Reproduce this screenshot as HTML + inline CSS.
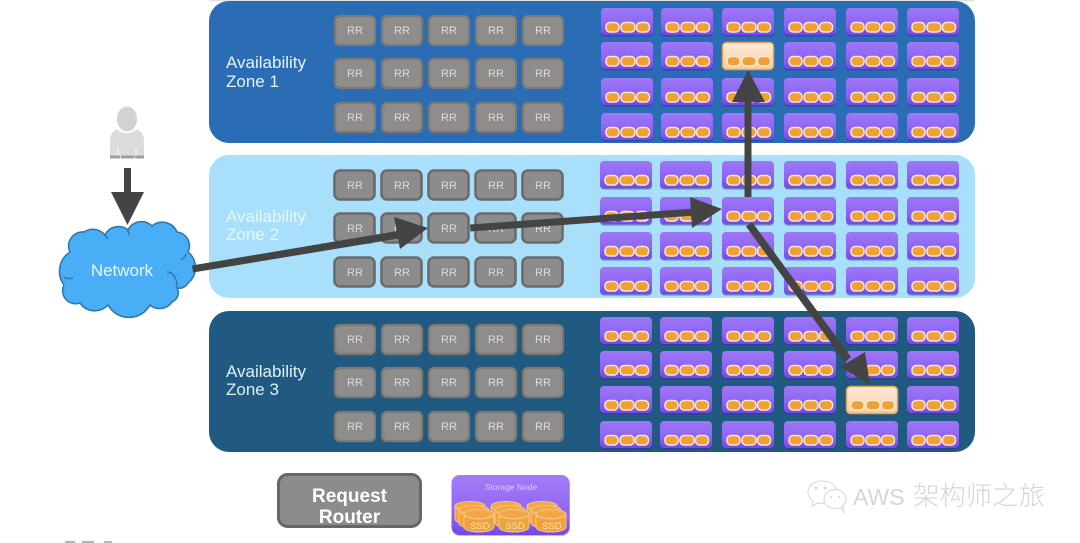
<!DOCTYPE html>
<html><head><meta charset="utf-8"><style>
html,body{margin:0;padding:0;background:#fff;width:1080px;height:543px;overflow:hidden}
svg{display:block;font-family:"Liberation Sans","Noto Sans CJK SC",sans-serif;filter:blur(.35px)}
.rr text{font-size:11px;fill:#dcdcdc;text-anchor:middle}
</style></head><body>
<svg width="1080" height="543" viewBox="0 0 1080 543" xmlns="http://www.w3.org/2000/svg">
<defs>
<linearGradient id="pg" x1="0" y1="0" x2="0" y2="1"><stop offset="0" stop-color="#9f78f7"/><stop offset=".65" stop-color="#8c62f3"/><stop offset="1" stop-color="#7049e6"/></linearGradient>
<linearGradient id="og" x1="0" y1="0" x2="0" y2="1"><stop offset="0" stop-color="#fdeadb"/><stop offset="1" stop-color="#f9cb9c"/></linearGradient>
<g id="cy"><rect x="5" y="14.500" width="13" height="9.500" rx="4" fill="#f0a135" stroke="#fbe8d4" stroke-width="1.500"/><rect x="20" y="14.500" width="14" height="9.500" rx="4" fill="#f0a135" stroke="#fbe8d4" stroke-width="1.500"/><rect x="35.500" y="14.500" width="13" height="9.500" rx="4" fill="#f0a135" stroke="#fbe8d4" stroke-width="1.500"/></g>
<g id="n"><rect x="0" y="1" width="52" height="27.500" rx="4" fill="#3d2aa0" opacity=".55"/><rect x="0" y="0" width="52" height="27" rx="4" fill="url(#pg)"/><use href="#cy"/></g>
<g id="h"><rect x=".5" y=".5" width="51" height="27" rx="4" fill="url(#og)" stroke="#e6a750" stroke-width="1.400"/><use href="#cy"/></g>
<rect id="a" x="1" y="1" width="40" height="29" rx="5" fill="#8e8d8b" stroke="#7d7a75" stroke-width="2.200"/>
<rect id="b" x="1.500" y="1.500" width="40" height="29" rx="5.500" fill="#8c8c8c" stroke="#6b6b6b" stroke-width="2.600"/>
<g id="leg"><ellipse cx="15" cy="5" rx="15" ry="4.500" fill="#f2a847" stroke="#f6c588"/><path d="M0 5v13c0 3 7 5 15 5s15-2 15-5V5c0 3-7 5-15 5S0 8 0 5z" fill="#f0a33d" stroke="#f6c588" stroke-width="1"/></g>
<linearGradient id="lg" x1="0" y1="0" x2="0" y2="1"><stop offset="0" stop-color="#a27cf7"/><stop offset=".7" stop-color="#8e64f3"/><stop offset="1" stop-color="#7248e8"/></linearGradient>
</defs>

<rect x="209" y="0" width="766" height="1.500" fill="#e4e4e4"/>
<rect x="209" y="1" width="766" height="142" rx="20" fill="#2a6db5"/>
<rect x="209" y="155" width="766" height="143" rx="20" fill="#a8e0fb"/>
<rect x="209" y="311" width="766" height="141" rx="20" fill="#205a80"/>

<text font-size="17" fill="#e8f2fb"><tspan x="226" y="68">Availability</tspan><tspan x="226" y="87">Zone 1</tspan></text>
<text font-size="17" fill="#e6f6fe"><tspan x="226" y="222">Availability</tspan><tspan x="226" y="240">Zone 2</tspan></text>
<text font-size="17" fill="#dff0fb"><tspan x="226" y="377">Availability</tspan><tspan x="226" y="395">Zone 3</tspan></text>

<!-- RR zone 1 -->
<g class="rr">
<use href="#a" x="334" y="15"/><use href="#a" x="381" y="15"/><use href="#a" x="428" y="15"/><use href="#a" x="475" y="15"/><use href="#a" x="522" y="15"/>
<use href="#a" x="334" y="58"/><use href="#a" x="381" y="58"/><use href="#a" x="428" y="58"/><use href="#a" x="475" y="58"/><use href="#a" x="522" y="58"/>
<use href="#a" x="334" y="102"/><use href="#a" x="381" y="102"/><use href="#a" x="428" y="102"/><use href="#a" x="475" y="102"/><use href="#a" x="522" y="102"/>
<text x="355" y="34">RR</text><text x="402" y="34">RR</text><text x="449" y="34">RR</text><text x="496" y="34">RR</text><text x="543" y="34">RR</text>
<text x="355" y="77">RR</text><text x="402" y="77">RR</text><text x="449" y="77">RR</text><text x="496" y="77">RR</text><text x="543" y="77">RR</text>
<text x="355" y="121">RR</text><text x="402" y="121">RR</text><text x="449" y="121">RR</text><text x="496" y="121">RR</text><text x="543" y="121">RR</text>
</g>
<!-- RR zone 2 -->
<g class="rr">
<use href="#b" x="333" y="169"/><use href="#b" x="380" y="169"/><use href="#b" x="427" y="169"/><use href="#b" x="474" y="169"/><use href="#b" x="521" y="169"/>
<use href="#b" x="333" y="212"/><use href="#b" x="380" y="212"/><use href="#b" x="427" y="212"/><use href="#b" x="474" y="212"/><use href="#b" x="521" y="212"/>
<use href="#b" x="333" y="256"/><use href="#b" x="380" y="256"/><use href="#b" x="427" y="256"/><use href="#b" x="474" y="256"/><use href="#b" x="521" y="256"/>
<text x="355" y="189">RR</text><text x="402" y="189">RR</text><text x="449" y="189">RR</text><text x="496" y="189">RR</text><text x="543" y="189">RR</text>
<text x="355" y="232">RR</text><text x="402" y="232">RR</text><text x="449" y="232">RR</text><text x="496" y="232">RR</text><text x="543" y="232">RR</text>
<text x="355" y="276">RR</text><text x="402" y="276">RR</text><text x="449" y="276">RR</text><text x="496" y="276">RR</text><text x="543" y="276">RR</text>
</g>
<!-- RR zone 3 -->
<g class="rr">
<use href="#a" x="334" y="324"/><use href="#a" x="381" y="324"/><use href="#a" x="428" y="324"/><use href="#a" x="475" y="324"/><use href="#a" x="522" y="324"/>
<use href="#a" x="334" y="367"/><use href="#a" x="381" y="367"/><use href="#a" x="428" y="367"/><use href="#a" x="475" y="367"/><use href="#a" x="522" y="367"/>
<use href="#a" x="334" y="411"/><use href="#a" x="381" y="411"/><use href="#a" x="428" y="411"/><use href="#a" x="475" y="411"/><use href="#a" x="522" y="411"/>
<text x="355" y="343">RR</text><text x="402" y="343">RR</text><text x="449" y="343">RR</text><text x="496" y="343">RR</text><text x="543" y="343">RR</text>
<text x="355" y="386">RR</text><text x="402" y="386">RR</text><text x="449" y="386">RR</text><text x="496" y="386">RR</text><text x="543" y="386">RR</text>
<text x="355" y="430">RR</text><text x="402" y="430">RR</text><text x="449" y="430">RR</text><text x="496" y="430">RR</text><text x="543" y="430">RR</text>
</g>

<!-- Storage zone 1 -->
<use href="#n" x="601" y="8"/><use href="#n" x="661" y="8"/><use href="#n" x="722" y="8"/><use href="#n" x="784" y="8"/><use href="#n" x="846" y="8"/><use href="#n" x="907" y="8"/>
<use href="#n" x="601" y="42"/><use href="#n" x="661" y="42"/><use href="#h" x="722" y="42"/><use href="#n" x="784" y="42"/><use href="#n" x="846" y="42"/><use href="#n" x="907" y="42"/>
<use href="#n" x="601" y="78"/><use href="#n" x="661" y="78"/><use href="#n" x="722" y="78"/><use href="#n" x="784" y="78"/><use href="#n" x="846" y="78"/><use href="#n" x="907" y="78"/>
<use href="#n" x="601" y="113"/><use href="#n" x="661" y="113"/><use href="#n" x="722" y="113"/><use href="#n" x="784" y="113"/><use href="#n" x="846" y="113"/><use href="#n" x="907" y="113"/>
<!-- Storage zone 2 -->
<use href="#n" x="600" y="161"/><use href="#n" x="660" y="161"/><use href="#n" x="722" y="161"/><use href="#n" x="784" y="161"/><use href="#n" x="846" y="161"/><use href="#n" x="907" y="161"/>
<use href="#n" x="600" y="197"/><use href="#n" x="660" y="197"/><use href="#n" x="722" y="197"/><use href="#n" x="784" y="197"/><use href="#n" x="846" y="197"/><use href="#n" x="907" y="197"/>
<use href="#n" x="600" y="232"/><use href="#n" x="660" y="232"/><use href="#n" x="722" y="232"/><use href="#n" x="784" y="232"/><use href="#n" x="846" y="232"/><use href="#n" x="907" y="232"/>
<use href="#n" x="600" y="267"/><use href="#n" x="660" y="267"/><use href="#n" x="722" y="267"/><use href="#n" x="784" y="267"/><use href="#n" x="846" y="267"/><use href="#n" x="907" y="267"/>
<!-- Storage zone 3 -->
<use href="#n" x="600" y="317"/><use href="#n" x="660" y="317"/><use href="#n" x="722" y="317"/><use href="#n" x="784" y="317"/><use href="#n" x="846" y="317"/><use href="#n" x="907" y="317"/>
<use href="#n" x="600" y="351"/><use href="#n" x="660" y="351"/><use href="#n" x="722" y="351"/><use href="#n" x="784" y="351"/><use href="#n" x="846" y="351"/><use href="#n" x="907" y="351"/>
<use href="#n" x="600" y="386"/><use href="#n" x="660" y="386"/><use href="#n" x="722" y="386"/><use href="#n" x="784" y="386"/><use href="#h" x="846" y="386"/><use href="#n" x="907" y="386"/>
<use href="#n" x="600" y="421"/><use href="#n" x="660" y="421"/><use href="#n" x="722" y="421"/><use href="#n" x="784" y="421"/><use href="#n" x="846" y="421"/><use href="#n" x="907" y="421"/>

<!-- Person -->
<ellipse cx="127" cy="119" rx="10" ry="12.500" fill="#d2d2d2"/>
<path d="M127 106l-3 3h6z" fill="#d6d6d6"/>
<path d="M117 129c-3 2-7 4-7 12v17h34v-17c0-8-4-10-7-12-3 3-6 4-10 4s-7-1-10-4z" fill="#dcdcdc"/>
<rect x="110" y="155.500" width="10" height="3" fill="#a0a0a0"/><rect x="121" y="155.500" width="13" height="3" fill="#a0a0a0"/><rect x="135" y="155.500" width="9" height="3" fill="#a0a0a0"/>
<path d="M118 148v7M136 148v7" stroke="#f4f4f4" stroke-width="1.500"/>

<!-- Network cloud -->
<path d="M70 252A14 14 0 0 1 84 232A16 16 0 0 1 105 235A15 15 0 0 1 128 230A15 15 0 0 1 152 226A16 16 0 0 1 177 232A14 14 0 0 1 188 252A20 20 0 0 1 188 283A10 10 0 0 1 177 288A10 10 0 0 1 172 302A15 15 0 0 1 150 305A24 24 0 0 1 108 305A18 18 0 0 1 80 303A13 13 0 0 1 64 285A23 23 0 0 1 70 252Z" fill="#4aaef6" stroke="#2f78a8" stroke-width="1.600"/>
<path d="M167 272c6 0 10 6 10 15M186 254c-1 3-3 5-5 6M64 277c3 2 6 2 9 1M105 235c1 2 2 3 3 4M128 230c0 2 1 4 1 5" fill="none" stroke="#2f78a8" stroke-width="1.400"/>
<text x="122" y="276" font-size="17" fill="#e6f5ff" text-anchor="middle">Network</text>

<!-- Arrows -->
<g fill="#444">
<rect x="124" y="168" width="7" height="26"/>
<path d="M111 192H144L127.500 225Z"/>
<path d="M192 265.500L400 230.500l1.500 7.500L193 272.500Z"/>
<path d="M428 228L394 217L400 249Z"/>
<path d="M470 224.500L695 208.500l.5 7L470.500 231.500Z"/>
<path d="M722 209L690 197L692 228Z"/>
<rect x="744.500" y="100" width="7" height="97"/>
<path d="M748 70L765 102H732Z"/>
<path d="M746 226.500L752 222L851 357L845 362Z"/>
<path d="M870 385L840 367L865 352Z"/>
</g>

<!-- Legend -->
<rect x="278.500" y="474.500" width="142" height="52" rx="9" fill="#8c8c8c" stroke="#676767" stroke-width="3"/>
<text font-size="19" font-weight="bold" fill="#fff" text-anchor="middle"><tspan x="349.500" y="502">Request</tspan><tspan x="349.500" y="523">Router</tspan></text>
<rect x="452" y="476" width="118" height="60" rx="8" fill="#5b3fb8" opacity=".35"/>
<rect x="451.500" y="475" width="118" height="60" rx="8" fill="url(#lg)"/>
<text x="511" y="490" font-size="8.500" fill="#d9ccfb" text-anchor="middle">Storage Node</text>
<use href="#leg" x="455" y="501"/><use href="#leg" x="491" y="501"/><use href="#leg" x="527" y="501"/>
<use href="#leg" x="459" y="505"/><use href="#leg" x="495" y="505"/><use href="#leg" x="531" y="505"/>
<use href="#leg" x="464" y="509"/><use href="#leg" x="499" y="509"/><use href="#leg" x="536" y="509"/>
<text font-size="9.500" fill="#fbe3c3" text-anchor="middle"><tspan x="480" y="529">SSD</tspan><tspan x="515" y="529">SSD</tspan><tspan x="552" y="529">SSD</tspan></text>

<!-- Watermark -->
<g fill="none" stroke="#dcdcdc" stroke-width="1.200">
<path d="M822 481c-8 0-14 5-14 11 0 4 2 7 5 9l-1 5 6-3c2 0 4 1 6 0"/>
<path d="M822 481c7 0 12 3 14 8"/>
<ellipse cx="835" cy="499" rx="11" ry="9.500"/>
<path d="M840 507l4 5-1-6"/>
</g>
<g fill="#d6d6d6"><circle cx="816" cy="488" r="1.500"/><circle cx="825" cy="488" r="1.500"/><circle cx="831" cy="497" r="1"/><circle cx="839" cy="497" r="1"/></g>
<text x="853" y="505" font-size="23" fill="#d6d6d6">AWS</text>
<text x="913" y="505" font-size="26.400" fill="#d6d6d6" font-family="'Noto Sans CJK SC',sans-serif" font-weight="300">架构师之旅</text>

<!-- cropped label at the bottom edge -->
<g fill="#b5b5b5"><rect x="65" y="541" width="10" height="2"/><rect x="82" y="541" width="12" height="2"/><rect x="104" y="541" width="8" height="2"/></g>
</svg>
</body></html>
